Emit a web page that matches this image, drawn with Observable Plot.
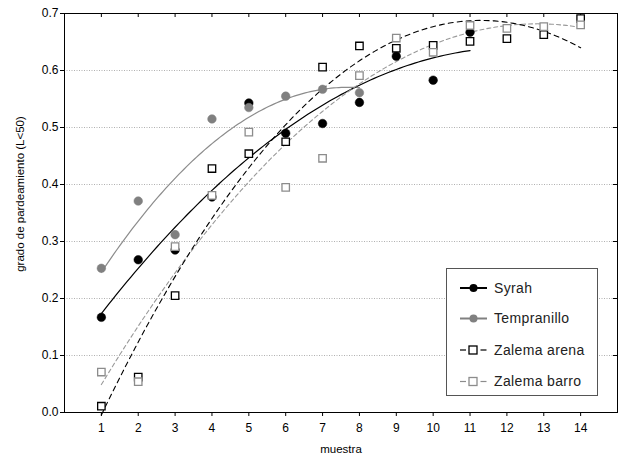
<!DOCTYPE html>
<html><head><meta charset="utf-8">
<script src="https://cdn.jsdelivr.net/npm/d3@7"></script>
<script src="https://cdn.jsdelivr.net/npm/@observablehq/plot@0.6"></script>
<style>
body{margin:0;background:#fff;}
#chart{width:618px;height:462px;}
</style>
</head><body><div id="chart"></div>
<script>
const muestra = [1,2,3,4,5,6,7,8,9,10,11,12,13,14];
const yTicks = [0,0.1,0.2,0.3,0.4,0.5,0.6,0.7];
const gridTicks = [0.1,0.2,0.3,0.4,0.5,0.6];
const syrah = [0.167,0.268,0.285,0.378,0.543,0.490,0.507,0.544,0.625,0.583,0.667];
const tempranillo = [0.253,0.371,0.312,0.515,0.535,0.555,0.567,0.561];
const zalemaArena = [0.011,0.062,0.205,0.428,0.454,0.475,0.606,0.643,0.639,0.644,0.651,0.656,0.663,0.691];
const zalemaBarro = [0.071,0.054,0.291,0.381,0.492,0.395,0.446,0.591,0.657,0.632,0.679,0.674,0.677,0.680];
const seriesNames = ["Syrah","Tempranillo","Zalema arena","Zalema barro"];
const xLabel = "muestra";
const yLabel = "grado de pardeamiento (L<50)";

const toPts = (vals) => vals.map((v,i)=>({x: muestra[i], y: v}));

// least-squares quadratic fit, drawn over the range of each series
function quadFit(vals){
  const xs = vals.map((_,i)=>muestra[i]);
  let s0=0,s1=0,s2=0,s3=0,s4=0,t0=0,t1=0,t2=0;
  vals.forEach((y,i)=>{const x=xs[i];s0++;s1+=x;s2+=x*x;s3+=x*x*x;s4+=x*x*x*x;t0+=y;t1+=x*y;t2+=x*x*y;});
  const det3=(m)=>m[0][0]*(m[1][1]*m[2][2]-m[1][2]*m[2][1])-m[0][1]*(m[1][0]*m[2][2]-m[1][2]*m[2][0])+m[0][2]*(m[1][0]*m[2][1]-m[1][1]*m[2][0]);
  const A=[[s0,s1,s2],[s1,s2,s3],[s2,s3,s4]], B=[t0,t1,t2];
  const D=det3(A);
  const coef=[0,1,2].map(k=>det3(A.map((row,r)=>row.map((v,c)=>c===k?B[r]:v)))/D);
  const x0=xs[0], x1=xs[xs.length-1];
  return d3.range(0,101).map(j=>{const x=x0+(x1-x0)*j/100;return {x, y: coef[0]+coef[1]*x+coef[2]*x*x};});
}

const font = "'Liberation Sans', Arial, sans-serif";

const plot = Plot.plot({
  width: 618, height: 462,
  marginLeft: 64, marginRight: 1, marginTop: 13, marginBottom: 50,
  style: {fontFamily: font, fontSize: "12px", background: "#fff", color: "#000"},
  x: {domain: [0,15]},
  y: {domain: [0,0.7]},
  marks: [
    Plot.ruleY(gridTicks, {y: d=>d, stroke: "#b0b0b0", strokeDasharray: "1,1.5", strokeWidth: 1}),
    Plot.frame({stroke: "#000", strokeWidth: 1}),
    Plot.axisX({ticks: muestra, tickSize: 4, tickPadding: 7, label: null, fontSize: 12, style:{letterSpacing:"0.4px"}}),
    Plot.axisY({ticks: yTicks, tickSize: 4, tickPadding: 2, tickFormat: d3.format(".1f"), label: null, fontSize: 12, style:{letterSpacing:"0.4px"}}),
    Plot.ruleX(muestra, {x: d=>d, insetBottom: 395, stroke: "#000"}),
    Plot.ruleY(yTicks.slice(1,-1), {y: d=>d, insetLeft: 549, stroke: "#000"}),
    Plot.text([xLabel], {text: d=>d, frameAnchor: "bottom", dy: 40, fontSize: 11.5, fill: "#000", style:{letterSpacing:"0.3px"}}),
    Plot.text([yLabel], {text: d=>d, frameAnchor: "left", textAnchor: "middle", dx: -44, dy: -19, rotate: -90, fontSize: 11.5, fill: "#000", style:{letterSpacing:"0.55px"}}),
    // fitted curves
    Plot.line(quadFit(tempranillo), {x:"x", y:"y", stroke: "#8c8c8c", strokeWidth: 1.2}),
    Plot.line(quadFit(syrah), {x:"x", y:"y", stroke: "#000", strokeWidth: 1.2}),
    Plot.line(quadFit(zalemaBarro), {x:"x", y:"y", stroke: "#999", strokeWidth: 1.1, strokeDasharray: "4,3"}),
    Plot.line(quadFit(zalemaArena), {x:"x", y:"y", stroke: "#000", strokeWidth: 1.1, strokeDasharray: "5,4"}),
    // points
    Plot.dot(toPts(syrah), {x:"x", y:"y", r: 4.3, fill: "#000", stroke: "#000", strokeWidth: 0.5}),
    Plot.dot(toPts(tempranillo), {x:"x", y:"y", r: 4.3, fill: "#808080", stroke: "#808080", strokeWidth: 0.5}),
    Plot.dot(toPts(zalemaArena), {x:"x", y:"y", r: 4.2, symbol: "square", fill: "#fff", stroke: "#000", strokeWidth: 1.3}),
    Plot.dot(toPts(zalemaBarro), {x:"x", y:"y", r: 4.2, symbol: "square", fill: "#fff", stroke: "#8c8c8c", strokeWidth: 1.3})
  ]
});
document.getElementById("chart").appendChild(plot);

// in-plot legend
const svg = d3.select(plot);
const lg = svg.append("g").attr("text-anchor", "start");
lg.append("rect").attr("x", 446.5).attr("y", 268.5).attr("width", 151).attr("height", 127)
  .attr("fill", "#fff").attr("stroke", "#555").attr("stroke-width", 1);
const rows = [
  {name: seriesNames[0], color: "#000", dash: null, fill: "#000", w: 2},
  {name: seriesNames[1], color: "#808080", dash: null, fill: "#808080", w: 2},
  {name: seriesNames[2], color: "#000", dash: true, fill: "#fff", w: 1.2},
  {name: seriesNames[3], color: "#8c8c8c", dash: true, fill: "#fff", w: 1.2}
];
const rowY = [288, 318.5, 350, 381.5];
rows.forEach((r, i) => {
  const y = rowY[i];
  if (r.dash) {
    lg.append("line").attr("x1", 460).attr("x2", 466).attr("y1", y).attr("y2", y).attr("stroke", r.color).attr("stroke-width", r.w);
    lg.append("line").attr("x1", 480.5).attr("x2", 486.5).attr("y1", y).attr("y2", y).attr("stroke", r.color).attr("stroke-width", r.w);
    lg.append("rect").attr("x", 469).attr("y", y-4).attr("width", 8).attr("height", 8).attr("fill", "#fff").attr("stroke", r.color).attr("stroke-width", 1.3);
  } else {
    lg.append("line").attr("x1", 460).attr("x2", 487).attr("y1", y).attr("y2", y).attr("stroke", r.color).attr("stroke-width", r.w);
    lg.append("circle").attr("cx", 473.5).attr("cy", y).attr("r", 4).attr("fill", r.fill);
  }
  lg.append("text").attr("x", 494).attr("y", y).attr("dy", "0.35em").attr("text-anchor", "start")
    .attr("font-family", font).attr("font-size", 14).attr("letter-spacing", "0.35px").attr("fill", "#222").text(r.name);
});
</script>
</body></html>
